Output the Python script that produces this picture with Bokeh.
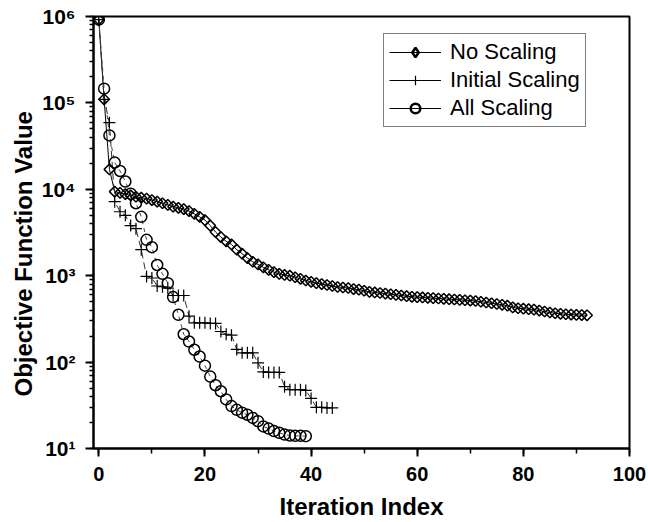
from bokeh.plotting import figure
from bokeh.models import (ColumnDataSource, Legend, LegendItem, SingleIntervalTicker,
                          LogTicker, CustomJSTickFormatter, Range1d, Title)
from bokeh.embed import file_html
from bokeh.resources import INLINE

# ---------------- data ----------------
no_scaling = [920000, 110000, 17000, 9400, 9100, 8800, 8500, 8200, 8000, 7800,
              7500, 7200, 6900, 6600, 6300, 6100, 5900, 5600, 5200, 4800,
              4400, 3800, 3200, 2800, 2500, 2300, 2000, 1800, 1600, 1450,
              1350, 1250, 1170, 1100, 1050, 1020, 1000, 960, 920, 880,
              850, 820, 800, 780, 760, 740, 730, 720, 700, 690,
              670, 650, 640, 630, 620, 610, 600, 590, 580, 570,
              565, 560, 555, 550, 545, 540, 535, 530, 525, 520,
              515, 510, 500, 490, 480, 470, 460, 450, 430, 420,
              415, 410, 405, 395, 385, 375, 368, 362, 358, 355,
              352, 350, 348]
initial_scaling = [920000, 110000, 59000, 7200, 5500, 5000, 3800, 3500, 2000, 980,
                   940, 760, 745, 720, 590, 590, 590, 340, 285, 285,
                   285, 280, 280, 226, 210, 205, 140, 128, 128, 128,
                   98, 77, 76, 76, 76, 52, 48, 48, 48, 47,
                   38, 30, 30, 29.5, 29.5]
all_scaling = [920000, 146000, 42000, 20400, 16300, 12300, 8900, 6900, 4800, 2600,
               2140, 1330, 1050, 820, 565, 353, 210, 173, 139, 116,
               91, 68, 54, 46, 37, 31, 28, 26, 24.6, 22.6,
               20.7, 18, 17, 15.9, 15.2, 14.5, 14.1, 14.0, 14.0, 13.9]
series_names = ["No Scaling", "Initial Scaling", "All Scaling"]
x_label = "Iteration Index"
y_label = "Objective Function Value"

FONT = "Liberation Sans"

p = figure(width=648, height=522, y_axis_type="log", output_backend="svg",
           toolbar_location=None, min_border_left=93, min_border_right=19,
           min_border_top=16, min_border_bottom=73)
p.x_range = Range1d(-1, 100)
p.y_range = Range1d(10, 1e6)
p.grid.visible = False
p.background_fill_color = "white"
p.border_fill_color = "white"
p.outline_line_color = "black"
p.outline_line_width = 2

src_n = ColumnDataSource(dict(x=list(range(len(no_scaling))), y=no_scaling))
src_i = ColumnDataSource(dict(x=list(range(len(initial_scaling))), y=initial_scaling))
src_a = ColumnDataSource(dict(x=list(range(len(all_scaling))), y=all_scaling))

# lines
p.line("x", "y", source=src_n, line_color="black", line_width=1)
p.line("x", "y", source=src_i, line_color="#333333", line_width=1, line_dash="7 4")
p.line("x", "y", source=src_a, line_color="#444444", line_width=1, line_dash="4 4")

# markers
p.scatter("x", "y", source=src_n, marker="square", angle=0.785398, size=7.5,
          fill_alpha=0, line_color="black", line_width=1.5)
p.scatter("x", "y", source=src_i, marker="cross", size=12,
          line_color="black", line_width=1.2)
p.scatter("x", "y", source=src_a, marker="circle", size=11,
          fill_alpha=0, line_color="black", line_width=1.5)

# legend proxies (single point far outside the visible range)
proxy = ColumnDataSource(dict(x=[-50], y=[1e-3]))
l1 = p.line("x", "y", source=proxy, line_color="black", line_width=1)
m1 = p.scatter("x", "y", source=proxy, marker="diamond", size=16,
               fill_alpha=0, line_color="black", line_width=2.5)
l2 = p.line("x", "y", source=proxy, line_color="black", line_width=1)
m2 = p.scatter("x", "y", source=proxy, marker="cross", size=12,
               line_color="black", line_width=1.2)
l3 = p.line("x", "y", source=proxy, line_color="black", line_width=1)
m3 = p.scatter("x", "y", source=proxy, marker="circle", size=9,
               fill_alpha=0, line_color="black", line_width=2.5)

legend = Legend(items=[LegendItem(label=series_names[0], renderers=[l1, m1]),
                       LegendItem(label=series_names[1], renderers=[l2, m2]),
                       LegendItem(label=series_names[2], renderers=[l3, m3])],
                location=(290, 321), padding=5, spacing=2, margin=0,
                glyph_width=52, glyph_height=24, label_height=24, label_standoff=9,
                label_text_font=FONT, label_text_font_size="22px",
                label_text_color="black",
                border_line_color="black", border_line_width=1,
                background_fill_alpha=1)
p.add_layout(legend, "center")

# axes
xa = p.xaxis[0]
xa.ticker = SingleIntervalTicker(interval=20, num_minor_ticks=2)
ya = p.yaxis[0]
ya.ticker = LogTicker(desired_num_ticks=6, num_minor_ticks=10)
ya.formatter = CustomJSTickFormatter(code="""
const sup = {'0':'\u2070','1':'\u00b9','2':'\u00b2','3':'\u00b3','4':'\u2074',
             '5':'\u2075','6':'\u2076','7':'\u2077','8':'\u2078','9':'\u2079','-':'\u207b'};
const e = Math.round(Math.log10(tick));
return '10' + String(e).split('').map(c => sup[c]).join('');
""")
for ax in (xa, ya):
    ax.axis_line_width = 2
    ax.axis_line_color = "black"
    ax.major_tick_line_width = 2
    ax.minor_tick_line_width = 1.5
    ax.major_tick_out = 8
    ax.major_tick_in = 0
    ax.minor_tick_out = 4
    ax.minor_tick_in = 0
    ax.major_label_text_font = FONT
    ax.major_label_text_font_style = "bold"
    ax.major_label_text_color = "black"
    ax.axis_label_text_font = FONT
    ax.axis_label_text_font_style = "bold"
    ax.axis_label_text_color = "black"
xa.minor_tick_out = 5
xa.major_label_text_font_size = "20px"
ya.major_label_text_font_size = "21px"
xa.major_label_standoff = 10
ya.major_label_standoff = 10
xa.axis_label = x_label
xa.axis_label_text_font_size = "24px"
xa.axis_label_standoff = 9

# y-axis title as a left-side title, starting a little above the frame bottom
ytitle = Title(text=y_label, align="left", offset=52, standoff=4,
               text_font=FONT, text_font_style="bold", text_font_size="24px",
               text_color="black")
p.add_layout(ytitle, "left")

open("out.html", "w").write(file_html(p, INLINE))
